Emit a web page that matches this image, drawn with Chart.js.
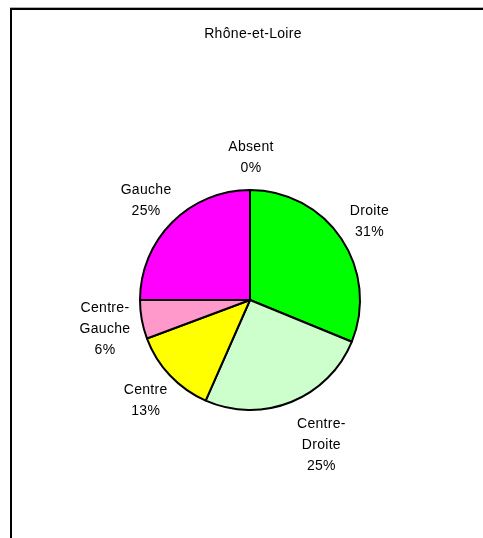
<!DOCTYPE html>
<html>
<head>
<meta charset="utf-8">
<script src="https://cdn.jsdelivr.net/npm/chart.js@4"></script>
<style>
  html, body { margin: 0; padding: 0; background: #fff; }
  #wrap { position: relative; width: 483px; height: 538px; overflow: hidden; }
  #gray { position: absolute; left: 10px; top: 7px; width: 600px; height: 0; border-top: 1px solid #b0b0b0; }
  #frame { position: absolute; left: 10px; top: 8px; width: 600px; height: 600px; border-left: 2px solid #000; border-top: 2px solid #000; }
  canvas { position: absolute; left: 0; top: 0; }
</style>
</head>
<body>
<div id="wrap">
  <div id="gray"></div>
  <div id="frame"></div>
  <canvas id="c" width="483" height="538"></canvas>
</div>
<script>
const title = 'Rhône-et-Loire';
const categories = ['Absent', 'Droite', 'Centre-Droite', 'Centre', 'Centre-Gauche', 'Gauche'];
const values = [0, 31.2, 25.4, 12.7, 5.7, 25.0];
const colors = ['#000080', '#00FF00', '#CCFFCC', '#FFFF00', '#FF99CC', '#FF00FF'];

const FONT = '14px "Liberation Sans", Arial, sans-serif';
const LINE_H = 21;
const GAP = 13;

const labelPlugin = {
  id: 'pieLabels',
  afterDatasetsDraw(chart) {
    const ctx = chart.ctx;
    const meta = chart.getDatasetMeta(0);
    const data = chart.data.datasets[0].data;
    const total = data.reduce((a, b) => a + b, 0);
    ctx.save();
    ctx.font = FONT;
    try { ctx.letterSpacing = '0.3px'; } catch (e) {}
    ctx.fillStyle = '#000';
    ctx.textAlign = 'center';
    ctx.textBaseline = 'middle';
    let cx = 0, cy = 0;
    meta.data.forEach((arc, i) => {
      const p = arc.getProps(['x', 'y', 'startAngle', 'endAngle', 'outerRadius'], true);
      cx = p.x; cy = p.y;
      const mid = (p.startAngle + p.endAngle) / 2;
      const ux = Math.cos(mid), uy = Math.sin(mid);
      const name = chart.data.labels[i];
      const lines = name.replace(/-(?=\S)/, '-\n').split('\n');
      lines.push(Math.round(data[i] / total * 100) + '%');
      const w = Math.max(...lines.map(l => ctx.measureText(l).width));
      const h = lines.length * LINE_H;
      // lower-right boxes sit fully to the right of their anchor
      const sx = (ux > 0 && uy > 0.5) ? 1 : ux;
      const bx = p.x + ux * (p.outerRadius + GAP) + sx * w / 2 + 1;
      const by = p.y + uy * (p.outerRadius + GAP) + uy * h / 2 + 2;
      lines.forEach((l, k) => {
        ctx.fillText(l, bx, by - h / 2 + LINE_H / 2 + k * LINE_H);
      });
    });
    ctx.fillText(title, cx + 3, 34);
    ctx.restore();
  }
};

new Chart(document.getElementById('c'), {
  type: 'pie',
  data: {
    labels: categories,
    datasets: [{
      data: values,
      backgroundColor: colors,
      borderColor: '#000',
      borderWidth: 2
    }]
  },
  options: {
    responsive: false,
    animation: false,
    radius: 110,
    layout: { padding: { left: 17, top: 62, right: 0, bottom: 0 } },
    plugins: {
      legend: { display: false },
      tooltip: { enabled: false },
      title: { display: false }
    }
  },
  plugins: [labelPlugin]
});
</script>
</body>
</html>
